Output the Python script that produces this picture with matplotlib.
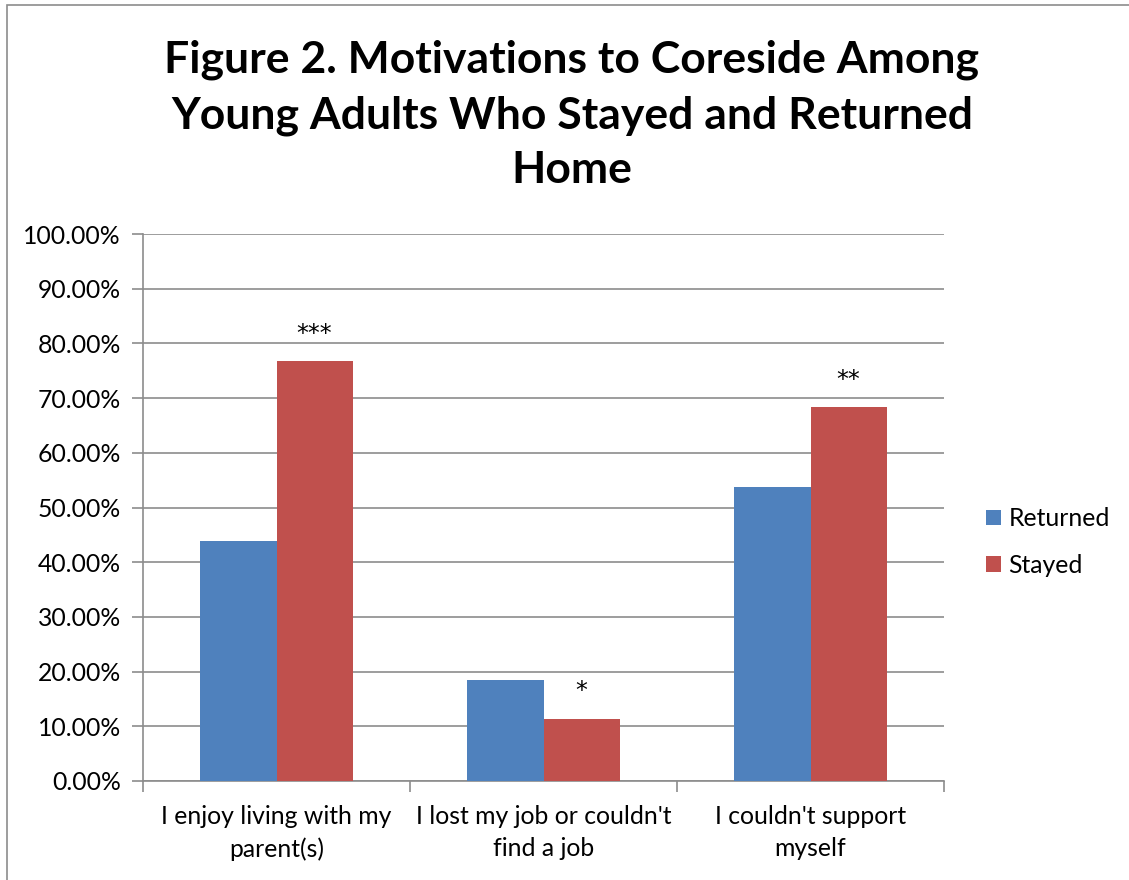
import matplotlib
matplotlib.use("Agg")
import matplotlib.pyplot as plt
import numpy as np
from matplotlib.patches import Rectangle

plt.rcParams["font.family"] = ["Lato", "DejaVu Sans"]

CATS = ["I enjoy living with my\nparent(s)", "I lost my job or couldn't\nfind a job", "I couldn't support\nmyself"]
RETURNED = [43.9, 18.4, 53.7]
STAYED = [76.8, 11.4, 68.3]
STARS = ["***", "*", "**"]
YTICKS = [0, 10, 20, 30, 40, 50, 60, 70, 80, 90, 100]

W, H = 1129, 880
FS = 17.8
fig = plt.figure(figsize=(W / 100, H / 100), dpi=100)
# outer chart border (only left/top visible in the reference)
fig.add_artist(Rectangle((7 / W, -0.1), 1.2, (H - 5) / H + 0.1, transform=fig.transFigure,
                         fill=False, edgecolor="#8c8c8c", lw=1.2))

ax = fig.add_axes([143 / W, 1 - 781 / H, (944 - 143) / W, (781 - 234) / H])
x = np.arange(len(CATS))
bw = 0.285
ax.bar(x - bw / 2, RETURNED, bw, color="#4f81bd", label="Returned", zorder=3)
ax.bar(x + bw / 2, STAYED, bw, color="#c0504d", label="Stayed", zorder=3)
for xi, v, s in zip(x, STAYED, STARS):
    ax.annotate(s, (xi + bw / 2, v), xytext=(0, 11), textcoords="offset points",
                ha="center", va="bottom", fontsize=17, family="DejaVu Sans")

ax.set_xlim(-0.5, 2.5)
ax.set_ylim(0, 100)
ax.set_yticks(YTICKS)
ax.set_yticklabels([f"{t:.2f}%" for t in YTICKS], fontsize=FS)
ax.yaxis.grid(True, color="#8c8c8c", lw=1.2, zorder=0)
ax.set_xticks([-0.5, 0.5, 1.5, 2.5])
ax.set_xticklabels([])
ax.set_xticks(x, minor=True)
ax.set_xticklabels(CATS, minor=True, fontsize=FS, linespacing=1.48)
ax.tick_params(axis="x", which="minor", length=0, pad=17)
ax.tick_params(axis="x", which="major", length=8, color="#8c8c8c", width=1.2)
ax.tick_params(axis="y", length=8, color="#8c8c8c", width=1.2, pad=8)
for side in ["top", "right"]:
    ax.spines[side].set_visible(False)
for side in ["left", "bottom"]:
    ax.spines[side].set_color("#8c8c8c")
    ax.spines[side].set_linewidth(1.2)

fig.legend(loc="center left", bbox_to_anchor=(964 / W, 1 - 542 / H), frameon=False,
           fontsize=FS, handlelength=0.6, handleheight=0.6, labelspacing=0.95, handletextpad=0.3)

fig.text(572 / W, 1 - 115 / H, "Figure 2. Motivations to Coreside Among\nYoung Adults Who Stayed and Returned\nHome",
         ha="center", va="center", fontsize=32, fontweight="bold", linespacing=1.45)

fig.savefig("out.png", dpi=100)
